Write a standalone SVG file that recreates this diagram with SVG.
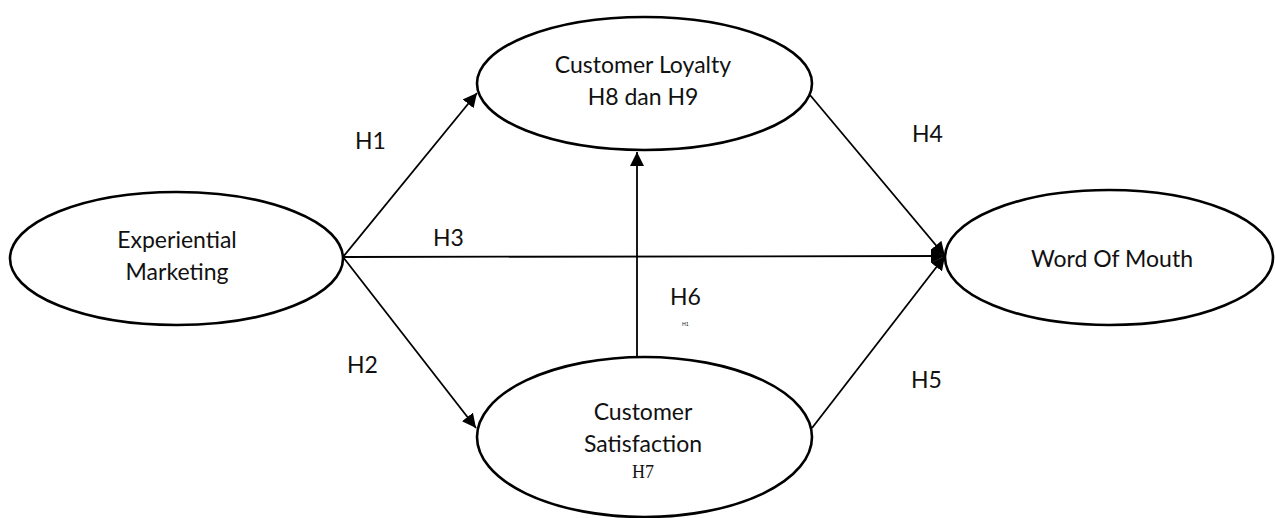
<svg xmlns="http://www.w3.org/2000/svg" width="1275" height="518" viewBox="0 0 1275 518">
  <style>
    .node ellipse { fill: #fff; stroke: #000; stroke-width: 2.6; }
    .lbl { font-family: Lato, "Liberation Sans", sans-serif; font-size: 23px; fill: #111; text-anchor: middle; }
    .hyp { font-family: Lato, "Liberation Sans", sans-serif; font-size: 23px; fill: #111; }
    .serif { font-family: "Liberation Serif", serif; font-size: 18px; fill: #111; text-anchor: middle; }
    .edge { stroke: #000; stroke-width: 1.8; fill: none; marker-end: url(#arrow); }
  </style>
  <defs>
    <marker id="arrow" viewBox="0 0 10 10" refX="10" refY="5" markerWidth="14" markerHeight="14" markerUnits="userSpaceOnUse" orient="auto">
      <path d="M0,0 L10,5 L0,10 Z" fill="#000"/>
    </marker>
  </defs>

  <rect width="1275" height="518" fill="#fff"/>

  <!-- connectors -->
  <g id="connectors">
    <line class="edge" x1="343" y1="257" x2="477" y2="93"/>
    <line class="edge" x1="343" y1="257" x2="476" y2="428"/>
    <line class="edge" x1="343" y1="257" x2="945" y2="256"/>
    <line class="edge" x1="810" y1="95" x2="945" y2="256"/>
    <line class="edge" x1="812" y1="428" x2="945" y2="256"/>
    <line class="edge" x1="637" y1="357" x2="637" y2="152"/>
  </g>

  <!-- hypothesis labels -->
  <g id="labels">
    <text class="hyp" x="355" y="149">H1</text>
    <text class="hyp" x="347" y="373">H2</text>
    <text class="hyp" x="433" y="246">H3</text>
    <text class="hyp" x="912" y="142">H4</text>
    <text class="hyp" x="911" y="388">H5</text>
    <text class="hyp" x="670" y="305">H6</text>
    <text x="682" y="326" font-family="Lato, sans-serif" font-size="5" fill="#111">H1</text>
  </g>

  <g id="experiential-marketing" class="node">
    <ellipse cx="176.5" cy="258.5" rx="166.5" ry="66.5"/>
    <text class="lbl" x="177" y="248">Experiential</text>
    <text class="lbl" x="177" y="280">Marketing</text>
  </g>

  <g id="customer-loyalty" class="node">
    <ellipse cx="644.5" cy="83.5" rx="167.5" ry="66.5"/>
    <text class="lbl" x="643" y="73">Customer Loyalty</text>
    <text class="lbl" x="643" y="105">H8 dan H9</text>
  </g>

  <g id="customer-satisfaction" class="node">
    <ellipse cx="644.5" cy="437" rx="167.5" ry="80"/>
    <text class="lbl" x="643" y="420">Customer</text>
    <text class="lbl" x="643" y="452">Satisfaction</text>
    <text class="serif" x="643" y="478">H7</text>
  </g>

  <g id="word-of-mouth" class="node">
    <ellipse cx="1109" cy="257.5" rx="164" ry="67.5"/>
    <text class="lbl" x="1112" y="267">Word Of Mouth</text>
  </g>
</svg>
